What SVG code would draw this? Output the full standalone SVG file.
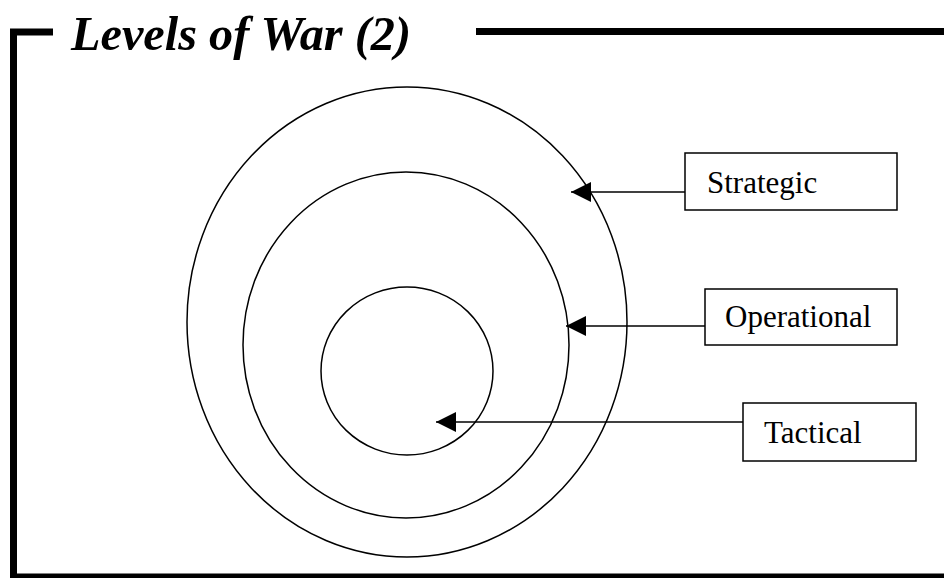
<svg xmlns="http://www.w3.org/2000/svg" width="944" height="578" viewBox="0 0 944 578">
<style>
.frame{fill:none;stroke:#000;stroke-width:7;stroke-linecap:butt}
.ring{fill:none;stroke:#000;stroke-width:1.5}
.box{fill:#fff;stroke:#000;stroke-width:1.5}
.lbl{font-family:"Liberation Serif","Times New Roman",serif;font-size:31px;fill:#000}
.title{font-family:"Liberation Serif","Times New Roman",serif;font-size:48px;font-weight:bold;font-style:italic;fill:#000}
.conn{fill:none;stroke:#000;stroke-width:1.5}
</style>
<defs>
<marker id="arr" markerUnits="userSpaceOnUse" markerWidth="22" markerHeight="20" refX="20" refY="10" orient="auto">
<path d="M0,0 L20,10 L0,20 Z" fill="#000"/>
</marker>
</defs>
<rect width="944" height="578" fill="#fff"/>
<g id="frame">
<path class="frame" d="M13.5 578 V32 H53"/>
<path class="frame" d="M476 31.5 H944"/>
<path class="frame" d="M10 577 H944"/>
<text class="title" x="71" y="50" textLength="340" lengthAdjust="spacingAndGlyphs">Levels of War (2)</text>
</g>
<g id="rings">
<ellipse id="outer" class="ring" cx="407" cy="322" rx="220" ry="235"/>
<ellipse id="middle" class="ring" cx="406" cy="345" rx="163" ry="173"/>
<ellipse id="inner" class="ring" cx="407" cy="371" rx="86" ry="84"/>
</g>
<g id="connectors">
<line class="conn" x1="685" y1="192" x2="571" y2="192" marker-end="url(#arr)"/>
<line class="conn" x1="705" y1="326" x2="566" y2="326" marker-end="url(#arr)"/>
<line class="conn" x1="743" y1="422" x2="436" y2="422" marker-end="url(#arr)"/>
</g>
<g id="strategic">
<rect class="box" x="685" y="153" width="212" height="57"/>
<text class="lbl" x="707" y="193">Strategic</text>
</g>
<g id="operational">
<rect class="box" x="705" y="289" width="192" height="56"/>
<text class="lbl" x="725" y="327">Operational</text>
</g>
<g id="tactical">
<rect class="box" x="743" y="403" width="173" height="58"/>
<text class="lbl" x="764" y="443">Tactical</text>
</g>
</svg>
